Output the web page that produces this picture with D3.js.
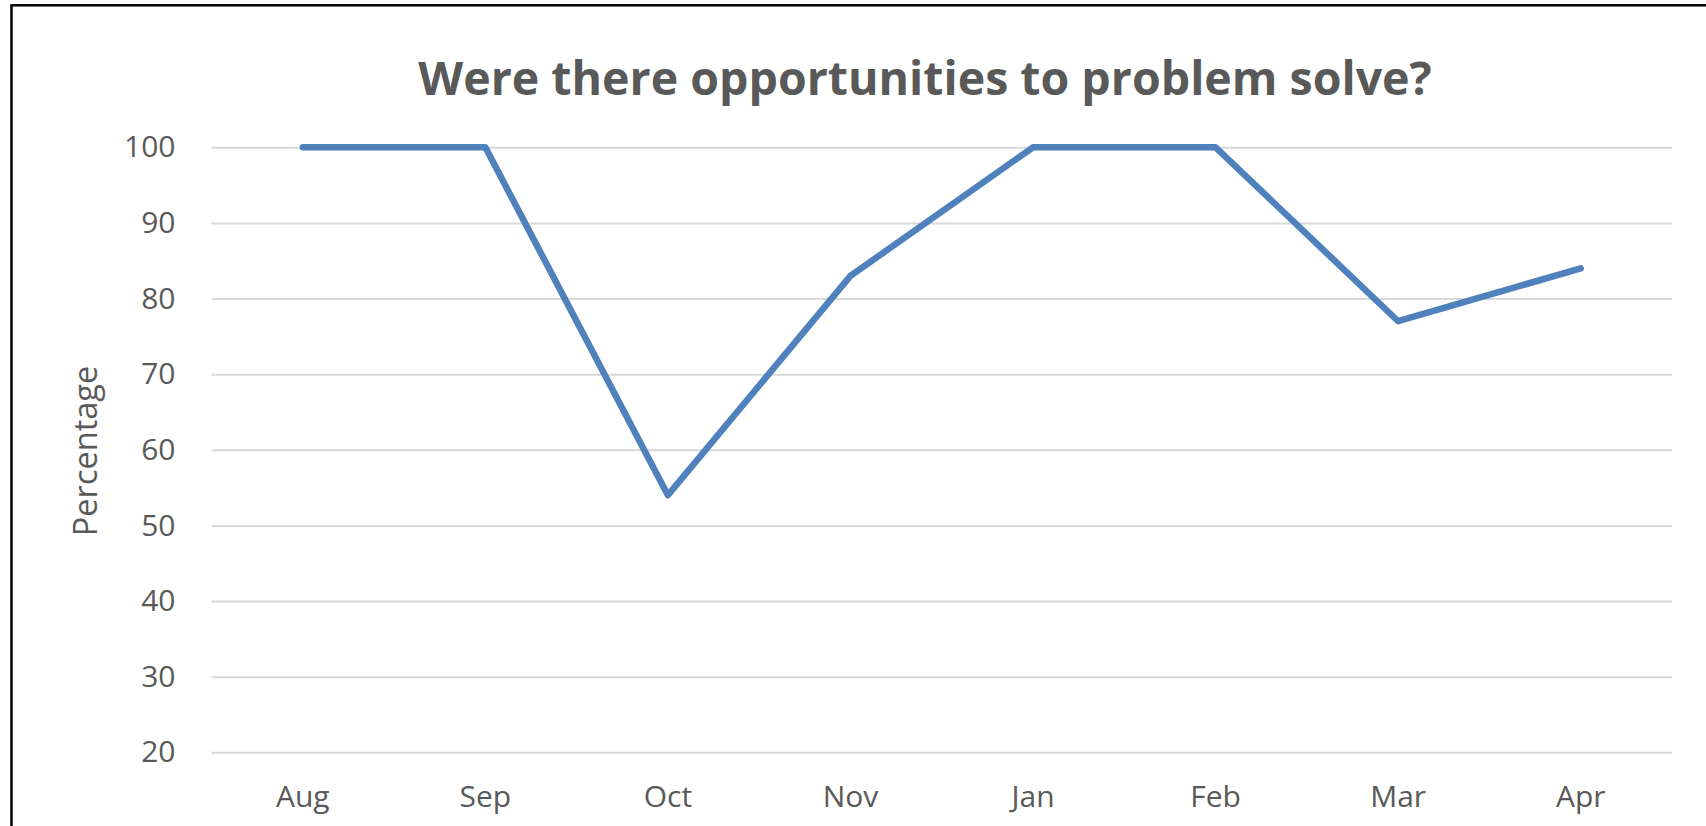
<!DOCTYPE html>
<html>
<head>
<meta charset="utf-8">
<script src="https://cdn.jsdelivr.net/npm/d3@7"></script>
<style>
  html, body { margin: 0; padding: 0; background: #ffffff; overflow: hidden; }
  svg { display: block; }
  text { font-family: "Open Sans", "Noto Sans", sans-serif; fill: #595959; }
</style>
</head>
<body>
<svg id="chart" width="1706" height="826"></svg>
<script>
// Monthly share of sessions with opportunities to problem solve
const months = ["Aug", "Sep", "Oct", "Nov", "Jan", "Feb", "Mar", "Apr"];
const percentages = [100, 100, 54, 83, 100, 100, 77, 84];
const yTicks = [20, 30, 40, 50, 60, 70, 80, 90, 100];
const chartTitle = "Were there opportunities to problem solve?";
const yAxisTitle = "Percentage";

const svg = d3.select("#chart");
const W = 1706, H = 826;
const plot = { left: 211.5, right: 1672, top: 147.3, bottom: 752.3 };

svg.append("rect")
  .attr("width", W).attr("height", H)
  .attr("fill", "#ffffff");

// outer frame (only top and left edges fall inside the view)
svg.append("rect")
  .attr("x", 11.5).attr("y", 5.3)
  .attr("width", W + 20).attr("height", H + 20)
  .attr("fill", "none")
  .attr("stroke", "#000000")
  .attr("stroke-width", 2.5);

const x = d3.scaleBand()
  .domain(months)
  .range([plot.left, plot.right]);

const y = d3.scaleLinear()
  .domain([20, 100])
  .range([plot.bottom, plot.top]);

// horizontal gridlines + value labels
const yAxis = d3.axisLeft(y)
  .tickValues(yTicks)
  .tickSize(-(plot.right - plot.left))
  .tickPadding(36)
  .tickFormat(d3.format("d"));

const gy = svg.append("g")
  .attr("transform", `translate(${plot.left},0)`)
  .call(yAxis);
gy.select(".domain").remove();
gy.selectAll(".tick line")
  .attr("stroke", "#d9d9d9")
  .attr("stroke-width", 2);
gy.selectAll(".tick text")
  .attr("fill", "#595959")
  .style("font-size", "30px");

// category labels
const xAxis = d3.axisBottom(x).tickSize(0).tickPadding(0);
const gx = svg.append("g")
  .attr("transform", `translate(0,${plot.bottom})`)
  .call(xAxis);
gx.select(".domain").remove();
gx.selectAll(".tick text")
  .attr("fill", "#595959")
  .attr("dy", null)
  .attr("y", 54.4)
  .style("font-size", "30px");

// series line
const line = d3.line()
  .x((d, i) => x(months[i]) + x.bandwidth() / 2)
  .y(d => y(d));

svg.append("path")
  .datum(percentages)
  .attr("d", line)
  .attr("fill", "none")
  .attr("stroke", "#4f81bd")
  .attr("stroke-width", 6.5)
  .attr("stroke-linejoin", "round")
  .attr("stroke-linecap", "round");

// title
svg.append("text")
  .attr("x", 925)
  .attr("y", 95)
  .attr("text-anchor", "middle")
  .style("font-size", "46.5px")
  .style("font-weight", "700")
  .text(chartTitle);

// y axis title
svg.append("text")
  .attr("transform", `translate(97,451) rotate(-90)`)
  .attr("text-anchor", "middle")
  .style("font-size", "32.5px")
  .text(yAxisTitle);
</script>
</body>
</html>
